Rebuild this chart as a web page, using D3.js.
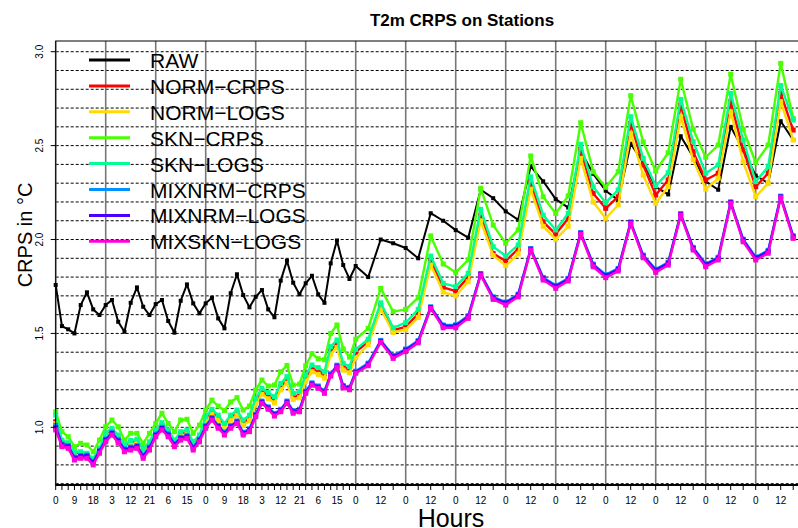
<!DOCTYPE html>
<html>
<head>
<meta charset="utf-8">
<script src="https://cdn.jsdelivr.net/npm/d3@7"></script>
<style>
  body { margin: 0; background: #fff; }
  text { font-family: "Liberation Sans", Arial, Helvetica, sans-serif; }
</style>
</head>
<body>
<svg width="798" height="528"></svg>
<script>
// lead times: 3-hourly up to 144 h, then 6-hourly
const leadHours = [
  0, 3, 6, 9, 12, 15, 18, 21, 24, 27, 30, 33, 36, 39, 42, 45, 48, 51, 54, 57, 60, 63, 66, 69,
  72, 75, 78, 81, 84, 87, 90, 93, 96, 99, 102, 105, 108, 111, 114, 117, 120, 123, 126, 129,
  132, 135, 138, 141, 144,
  150, 156, 162, 168, 174, 180, 186, 192, 198, 204, 210, 216, 222, 228, 234, 240, 246, 252,
  258, 264, 270, 276, 282, 288, 294, 300, 306, 312, 318, 324, 330, 336, 342, 348, 354,
];

const tickHours = [0, 9, 18, 27, 36, 45, 54, 63, 72, 81, 90, 99, 108, 117, 126, 135, 144,
  156, 168, 180, 192, 204, 216, 228, 240, 252, 264, 276, 288, 300, 312, 324, 336, 348];
const tickLabels = ["0", "9", "18", "3", "12", "21", "6", "15", "0", "9", "18", "3", "12", "21", "6", "15", "0",
  "12", "0", "12", "0", "12", "0", "12", "0", "12", "0", "12", "0", "12", "0", "12", "0", "12"];

const dayHours = [0, 24, 48, 72, 96, 120, 144, 168, 192, 216, 240, 264, 288, 312, 336, 360, 384];
const yTicks = [1.0, 1.5, 2.0, 2.5, 3.0];
const yGrid = [0.7, 0.8, 0.9, 1.0, 1.1, 1.2, 1.3, 1.4, 1.5, 1.6, 1.7, 1.8, 1.9, 2.0, 2.1, 2.2,
  2.3, 2.4, 2.5, 2.6, 2.7, 2.8, 2.9, 3.0];

const raw = [
  1.758, 1.539, 1.522, 1.50, 1.651, 1.719, 1.628, 1.598, 1.651, 1.678, 1.562, 1.509, 1.663, 1.745,
  1.642, 1.598, 1.656, 1.678, 1.566, 1.504, 1.674, 1.761, 1.66, 1.607, 1.66, 1.69, 1.58, 1.527,
  1.714, 1.815, 1.704, 1.639, 1.695, 1.731, 1.628, 1.586, 1.781, 1.887, 1.77, 1.708, 1.767, 1.807,
  1.708, 1.663, 1.873, 1.995, 1.864, 1.79, 1.859,
  1.80, 2.00, 1.98, 1.955, 1.90, 2.14, 2.10, 2.05, 2.01, 2.265, 2.22, 2.15, 2.105, 2.39, 2.31,
  2.215, 2.17, 2.47, 2.35, 2.26, 2.21, 2.51, 2.41, 2.28, 2.24, 2.55, 2.44, 2.31, 2.265, 2.60,
  2.48, 2.34, 2.30, 2.63, 2.53,
];

const normCrps = [
  1.03, 0.92, 0.905, 0.86, 0.86, 0.852, 0.825, 0.878, 0.958, 0.985, 0.948, 0.896, 0.918, 0.925,
  0.872, 0.912, 0.975, 1.012, 0.975, 0.92, 0.965, 0.972, 0.91, 0.946, 1.042, 1.082, 1.05, 1.006,
  1.05, 1.077, 1.022, 1.048, 1.138, 1.192, 1.168, 1.145, 1.216, 1.252, 1.163, 1.172, 1.262, 1.314,
  1.3, 1.278, 1.41, 1.445, 1.325, 1.305, 1.40,
  1.457, 1.65, 1.518, 1.535, 1.605, 1.89, 1.745, 1.725, 1.80, 2.13, 1.925, 1.886, 1.95, 2.303,
  2.094, 2.029, 2.112, 2.48, 2.245, 2.166, 2.228, 2.619, 2.397, 2.237, 2.317, 2.716, 2.468, 2.317,
  2.353, 2.734, 2.477, 2.281, 2.353, 2.778, 2.583,
];

const normLogs = [
  1.02, 0.912, 0.898, 0.852, 0.853, 0.845, 0.818, 0.87, 0.95, 0.976, 0.94, 0.888, 0.91, 0.916,
  0.864, 0.903, 0.965, 1.002, 0.965, 0.911, 0.955, 0.962, 0.9, 0.936, 1.03, 1.07, 1.038, 0.995,
  1.038, 1.064, 1.01, 1.035, 1.124, 1.176, 1.152, 1.13, 1.2, 1.235, 1.148, 1.157, 1.245, 1.296,
  1.282, 1.262, 1.39, 1.425, 1.305, 1.29, 1.37,
  1.44, 1.63, 1.505, 1.52, 1.585, 1.865, 1.72, 1.70, 1.775, 2.10, 1.915, 1.861, 1.923, 2.268,
  2.07, 2.001, 2.07, 2.432, 2.20, 2.113, 2.184, 2.565, 2.343, 2.193, 2.281, 2.654, 2.424, 2.269,
  2.326, 2.68, 2.414, 2.228, 2.30, 2.734, 2.53,
];

const sknCrps = [
  1.083, 0.977, 0.95, 0.897, 0.915, 0.906, 0.87, 0.932, 1.003, 1.039, 1.003, 0.932, 0.968, 0.968,
  0.915, 0.968, 1.021, 1.075, 1.021, 0.977, 1.039, 1.043, 0.968, 1.012, 1.092, 1.145, 1.113, 1.09,
  1.135, 1.158, 1.092, 1.113, 1.199, 1.252, 1.22, 1.225, 1.296, 1.329, 1.225, 1.23, 1.328, 1.392,
  1.365, 1.36, 1.50, 1.545, 1.418, 1.374, 1.469,
  1.527, 1.74, 1.616, 1.628, 1.69, 2.019, 1.87, 1.825, 1.891, 2.273, 2.077, 1.98, 2.051, 2.445,
  2.228, 2.139, 2.232, 2.622, 2.361, 2.278, 2.361, 2.766, 2.52, 2.365, 2.462, 2.853, 2.587, 2.438,
  2.503, 2.88, 2.587, 2.409, 2.503, 2.938, 2.645,
];

const sknLogs = [
  1.065, 0.932, 0.918, 0.87, 0.87, 0.862, 0.835, 0.888, 0.97, 0.995, 0.959, 0.906, 0.93, 0.937,
  0.883, 0.923, 0.986, 1.025, 0.986, 0.932, 0.977, 0.986, 0.923, 0.959, 1.056, 1.096, 1.065, 1.021,
  1.065, 1.092, 1.039, 1.065, 1.154, 1.208, 1.185, 1.163, 1.234, 1.27, 1.181, 1.19, 1.279, 1.332,
  1.318, 1.296, 1.43, 1.465, 1.341, 1.323, 1.415,
  1.469, 1.663, 1.53, 1.557, 1.628, 1.912, 1.767, 1.749, 1.82, 2.161, 1.962, 1.912, 1.971, 2.334,
  2.13, 2.051, 2.139, 2.507, 2.281, 2.196, 2.264, 2.654, 2.432, 2.286, 2.356, 2.746, 2.521, 2.353,
  2.397, 2.778, 2.53, 2.308, 2.388, 2.82, 2.636,
];

const mixnrmCrps = [
  1.01, 0.912, 0.903, 0.842, 0.85, 0.852, 0.818, 0.878, 0.938, 0.974, 0.934, 0.886, 0.895, 0.903,
  0.852, 0.895, 0.964, 1.0, 0.965, 0.913, 0.947, 0.956, 0.895, 0.938, 1.009, 1.052, 1.01, 0.974,
  1.009, 1.034, 0.974, 0.992, 1.07, 1.14, 1.109, 1.074, 1.096, 1.14, 1.089, 1.096, 1.193, 1.237,
  1.22, 1.194, 1.285, 1.331, 1.223, 1.213, 1.299,
  1.342, 1.463, 1.382, 1.417, 1.462, 1.642, 1.545, 1.546, 1.594, 1.819, 1.695, 1.667, 1.709, 1.952,
  1.798, 1.756, 1.793, 2.037, 1.869, 1.813, 1.846, 2.094, 1.917, 1.842, 1.879, 2.138, 1.958, 1.871,
  1.905, 2.201, 2.002, 1.907, 1.942, 2.231, 2.02,
];

const mixnrmLogs = [
  0.998, 0.905, 0.897, 0.836, 0.845, 0.846, 0.812, 0.872, 0.932, 0.968, 0.928, 0.88, 0.889, 0.897,
  0.846, 0.889, 0.958, 0.994, 0.959, 0.907, 0.941, 0.95, 0.889, 0.932, 1.003, 1.046, 1.004, 0.968,
  1.003, 1.028, 0.968, 0.986, 1.064, 1.134, 1.103, 1.068, 1.09, 1.134, 1.083, 1.09, 1.187, 1.231,
  1.214, 1.188, 1.279, 1.325, 1.217, 1.207, 1.293,
  1.336, 1.458, 1.377, 1.412, 1.457, 1.638, 1.54, 1.541, 1.589, 1.815, 1.69, 1.662, 1.704, 1.948,
  1.793, 1.751, 1.788, 2.033, 1.864, 1.808, 1.841, 2.09, 1.912, 1.837, 1.874, 2.134, 1.953, 1.866,
  1.9, 2.197, 1.997, 1.902, 1.937, 2.227, 2.015,
];

const mixsknLogs = [
  0.986, 0.897, 0.888, 0.826, 0.835, 0.835, 0.80, 0.862, 0.923, 0.959, 0.918, 0.87, 0.879, 0.888,
  0.835, 0.879, 0.95, 0.986, 0.95, 0.897, 0.932, 0.941, 0.879, 0.923, 0.995, 1.039, 0.995, 0.959,
  0.995, 1.021, 0.959, 0.977, 1.056, 1.128, 1.096, 1.06, 1.083, 1.128, 1.075, 1.083, 1.181, 1.225,
  1.208, 1.181, 1.273, 1.32, 1.21, 1.20, 1.288,
  1.328, 1.453, 1.367, 1.403, 1.45, 1.634, 1.53, 1.53, 1.58, 1.811, 1.681, 1.651, 1.695, 1.944,
  1.784, 1.74, 1.779, 2.029, 1.855, 1.797, 1.832, 2.086, 1.903, 1.825, 1.864, 2.13, 1.944, 1.855,
  1.891, 2.193, 1.988, 1.891, 1.927, 2.223, 2.006,
];

const seriesNames = ["RAW", "NORM\u2212CRPS", "NORM\u2212LOGS", "SKN\u2212CRPS", "SKN\u2212LOGS",
  "MIXNRM\u2212CRPS", "MIXNRM\u2212LOGS", "MIXSKN\u2212LOGS"];
const seriesValues = [raw, normCrps, normLogs, sknCrps, sknLogs, mixnrmCrps, mixnrmLogs, mixsknLogs];
const seriesColors = ["#000000", "#FF0000", "#FFDB00", "#49FF00", "#00FF92", "#0092FF", "#4900FF", "#FF00DB"];

const render = () => {
  const svg = d3.select("svg");

  // plot region (right side runs past the window, like the original)
  const left = 55.7, right = 868.2, top = 41, bottom = 485;

  const xScale = d3.scaleLinear().domain([0, 390]).range([left, right]);
  const yScale = d3.scaleLinear().domain([0.693, 3.057]).range([bottom, top]);

  const g = svg.append("g");

  // dashed horizontal grid
  g.selectAll(".hgrid").data(yGrid).enter().append("line")
    .attr("x1", left).attr("x2", right)
    .attr("y1", d => yScale(d)).attr("y2", d => yScale(d))
    .attr("stroke", "#000").attr("stroke-width", 1)
    .attr("stroke-dasharray", "3,2");

  // solid grey day lines
  g.selectAll(".vgrid").data(dayHours).enter().append("line")
    .attr("x1", d => xScale(d)).attr("x2", d => xScale(d))
    .attr("y1", top).attr("y2", bottom)
    .attr("stroke", "#777").attr("stroke-width", 1.6);

  // series
  const line = d3.line()
    .x((d, i) => xScale(leadHours[i]))
    .y(d => yScale(d));

  seriesValues.forEach((vals, k) => {
    const isRaw = k === 0;
    const s = isRaw ? 4 : 5;
    g.append("path")
      .datum(vals)
      .attr("d", line)
      .attr("fill", "none")
      .attr("stroke", seriesColors[k])
      .attr("stroke-width", isRaw ? 2 : 2.4)
      .attr("stroke-linejoin", "round");
    g.selectAll(".pt" + k).data(vals).enter().append("rect")
      .attr("x", (d, i) => xScale(leadHours[i]) - s / 2)
      .attr("y", d => yScale(d) - s / 2)
      .attr("width", s).attr("height", s)
      .attr("fill", seriesColors[k]);
  });

  // box
  svg.append("rect")
    .attr("x", left).attr("y", top)
    .attr("width", right - left).attr("height", bottom - top)
    .attr("fill", "none").attr("stroke", "#000").attr("stroke-width", 1);

  // x axis
  const xAxis = svg.append("g").attr("transform", `translate(0, ${bottom})`);
  xAxis.append("line")
    .attr("x1", left).attr("x2", right)
    .attr("stroke", "#000").attr("stroke-width", 2);
  xAxis.selectAll(".minor").data(leadHours).enter().append("line")
    .attr("x1", d => xScale(d)).attr("x2", d => xScale(d))
    .attr("y1", 0).attr("y2", 5)
    .attr("stroke", "#000").attr("stroke-width", 1);
  xAxis.selectAll(".xlab").data(tickHours).enter().append("text")
    .attr("x", d => xScale(d)).attr("y", 19)
    .attr("text-anchor", "middle")
    .attr("font-size", 10)
    .text((d, i) => tickLabels[i]);

  // y axis
  const yAxis = svg.append("g");
  yAxis.selectAll(".ytick").data(yTicks).enter().append("line")
    .attr("x1", left - 5).attr("x2", left)
    .attr("y1", d => yScale(d)).attr("y2", d => yScale(d))
    .attr("stroke", "#000");
  yAxis.selectAll(".ylab").data(yTicks).enter().append("text")
    .attr("transform", d => `translate(43, ${yScale(d)}) rotate(-90)`)
    .attr("text-anchor", "middle")
    .attr("font-size", 10)
    .text(d => d.toFixed(1));

  // titles
  svg.append("text")
    .attr("x", 462).attr("y", 26)
    .attr("text-anchor", "middle")
    .attr("font-size", 17).attr("font-weight", "bold")
    .text("T2m CRPS on Stations");

  svg.append("text")
    .attr("transform", "translate(32, 235) rotate(-90)")
    .attr("text-anchor", "middle")
    .attr("font-size", 20)
    .text("CRPS in \u00B0C");

  svg.append("text")
    .attr("x", 451).attr("y", 527)
    .attr("text-anchor", "middle")
    .attr("font-size", 25)
    .text("Hours");

  // legend
  const legend = svg.append("g");
  seriesNames.forEach((name, k) => {
    const ly = 60 + k * 25.9;
    legend.append("line")
      .attr("x1", 89).attr("x2", 130)
      .attr("y1", ly).attr("y2", ly)
      .attr("stroke", seriesColors[k]).attr("stroke-width", 3);
    legend.append("text")
      .attr("x", 150).attr("y", ly + 8)
      .attr("font-size", 21)
      .text(name);
  });
};

render();
</script>
</body>
</html>
